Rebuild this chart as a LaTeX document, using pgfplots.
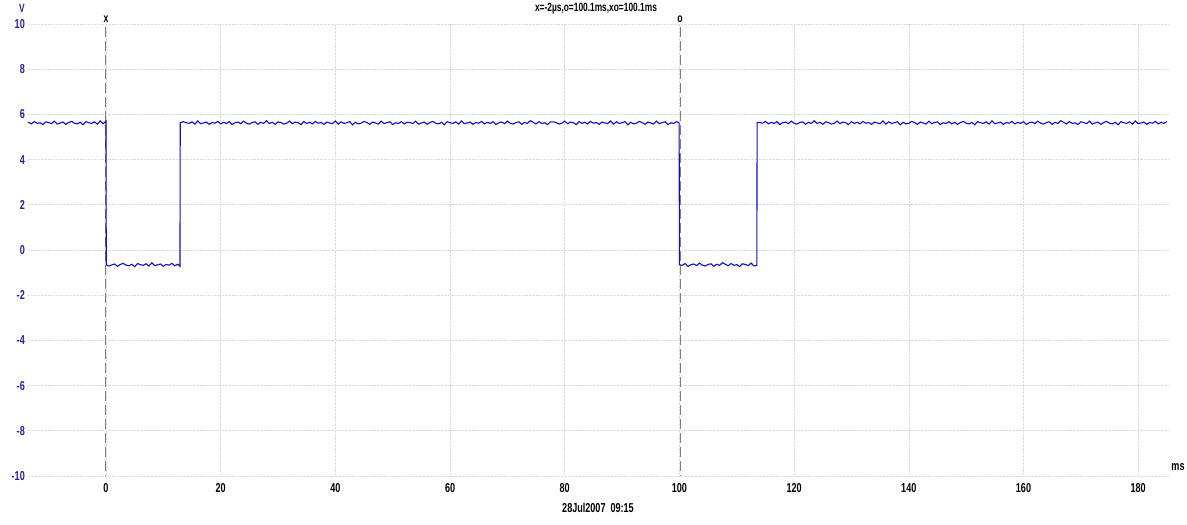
\documentclass[border=0pt]{standalone}
\usepackage{fontspec}
\setmainfont{Liberation Sans}[FakeStretch=0.7]
\usepackage{pgfplots}
\pgfplotsset{compat=1.18}
\definecolor{trace}{RGB}{15,15,200}
\definecolor{ylab}{RGB}{35,35,150}
\definecolor{cursor}{RGB}{125,125,125}
\begin{document}
\begin{tikzpicture}[x=1bp,y=1bp]
\useasboundingbox (0,0) rectangle (1187,525);
\begin{axis}[
  at={(28bp,49bp)}, anchor=south west,
  scale only axis, width=1140bp, height=452bp,
  xmin=-13.6, xmax=185.2, ymin=-10, ymax=10,
  enlargelimits=false, clip=false,
  axis line style={draw=none},
  major tick length=0pt,
  xtick={0,20,...,180}, ytick={-10,-8,...,10},
  grid=major, grid style={gray!28, densely dotted, line width=0.6pt},
  /pgf/number format/assume math mode=true,
  xticklabel style={font=\bfseries\fontsize{13}{14}\selectfont, anchor=north, inner sep=0pt, yshift=-7bp},
  yticklabel style={font=\bfseries\fontsize{13}{14}\selectfont, text=ylab, anchor=east, inner sep=0pt, xshift=-3bp},
]
\addplot[cursor, line width=1pt, dash pattern=on 10bp off 4bp] coordinates {(0,9.85) (0,-10)};
\addplot[cursor, line width=1pt, dash pattern=on 10bp off 4bp] coordinates {(100.1,9.85) (100.1,-10)};
\node[anchor=south, inner sep=0pt, font=\bfseries\fontsize{12.5}{13}\selectfont] at (axis cs:0,10.05) {x};
\node[anchor=south, inner sep=0pt, font=\bfseries\fontsize{12.5}{13}\selectfont] at (axis cs:100.1,10.05) {o};
\addplot[trace, line width=1.1pt] table {
-13.6 5.62
-13.5 5.65
-13.0 5.58
-12.5 5.68
-12.0 5.60
-11.5 5.63
-11.0 5.55
-10.5 5.67
-10.0 5.64
-9.5 5.59
-9.0 5.70
-8.5 5.57
-8.0 5.62
-7.5 5.66
-7.0 5.56
-6.5 5.64
-6.0 5.69
-5.5 5.61
-5.0 5.58
-4.5 5.65
-4.0 5.54
-3.5 5.68
-3.0 5.63
-2.5 5.60
-2.0 5.67
-1.5 5.57
-1.0 5.71
-0.5 5.59
0.0 5.70
0.05 -0.66
0.5 -0.71
1.0 -0.66
1.5 -0.62
2.0 -0.72
2.5 -0.64
3.0 -0.59
3.5 -0.67
4.0 -0.70
4.5 -0.63
5.0 -0.74
5.5 -0.60
6.0 -0.65
6.5 -0.68
7.0 -0.61
7.5 -0.71
8.0 -0.57
8.5 -0.69
9.0 -0.66
9.5 -0.62
10.0 -0.72
10.5 -0.64
11.0 -0.67
11.5 -0.59
12.0 -0.70
12.5 -0.63
12.9 -0.72
12.95 5.63
13.5 5.68
14.0 5.63
14.5 5.60
15.0 5.67
15.5 5.57
16.0 5.71
16.5 5.59
17.0 5.62
17.5 5.66
18.0 5.56
18.5 5.64
19.0 5.61
19.5 5.69
20.0 5.58
20.5 5.65
21.0 5.60
21.5 5.68
22.0 5.55
22.5 5.63
23.0 5.66
23.5 5.59
24.0 5.70
24.5 5.61
25.0 5.57
25.5 5.64
26.0 5.67
26.5 5.56
27.0 5.65
27.5 5.60
28.0 5.72
28.5 5.60
29.0 5.65
29.5 5.56
30.0 5.67
30.5 5.64
31.0 5.57
31.5 5.61
32.0 5.70
32.5 5.59
33.0 5.66
33.5 5.63
34.0 5.55
34.5 5.68
35.0 5.60
35.5 5.65
36.0 5.58
36.5 5.69
37.0 5.61
37.5 5.64
38.0 5.56
38.5 5.66
39.0 5.62
39.5 5.59
40.0 5.71
40.5 5.57
41.0 5.67
41.5 5.60
42.0 5.63
42.5 5.68
43.0 5.54
43.5 5.65
44.0 5.58
44.5 5.61
45.0 5.69
45.5 5.64
46.0 5.56
46.5 5.66
47.0 5.62
47.5 5.57
48.0 5.70
48.5 5.59
49.0 5.64
49.5 5.67
50.0 5.55
50.5 5.63
51.0 5.60
51.5 5.68
52.0 5.58
52.5 5.65
53.0 5.64
53.5 5.59
54.0 5.70
54.5 5.57
55.0 5.62
55.5 5.66
56.0 5.56
56.5 5.64
57.0 5.69
57.5 5.61
58.0 5.58
58.5 5.65
59.0 5.54
59.5 5.68
60.0 5.63
60.5 5.60
61.0 5.67
61.5 5.57
62.0 5.71
62.5 5.59
63.0 5.62
63.5 5.66
64.0 5.56
64.5 5.64
65.0 5.61
65.5 5.69
66.0 5.58
66.5 5.65
67.0 5.60
67.5 5.68
68.0 5.55
68.5 5.63
69.0 5.66
69.5 5.59
70.0 5.70
70.5 5.61
71.0 5.57
71.5 5.64
72.0 5.67
72.5 5.56
73.0 5.65
73.5 5.60
74.0 5.72
74.5 5.65
75.0 5.58
75.5 5.68
76.0 5.60
76.5 5.63
77.0 5.55
77.5 5.67
78.0 5.67
78.5 5.64
79.0 5.57
79.5 5.61
80.0 5.70
80.5 5.59
81.0 5.66
81.5 5.63
82.0 5.55
82.5 5.68
83.0 5.60
83.5 5.65
84.0 5.58
84.5 5.69
85.0 5.61
85.5 5.64
86.0 5.56
86.5 5.66
87.0 5.62
87.5 5.59
88.0 5.71
88.5 5.57
89.0 5.67
89.5 5.60
90.0 5.63
90.5 5.68
91.0 5.54
91.5 5.65
92.0 5.58
92.5 5.61
93.0 5.69
93.5 5.64
94.0 5.56
94.5 5.66
95.0 5.62
95.5 5.57
96.0 5.70
96.5 5.59
97.0 5.64
97.5 5.67
98.0 5.55
98.5 5.63
99.0 5.60
99.5 5.68
99.95 5.62
100.0 -0.65
100.5 -0.68
101.0 -0.60
101.5 -0.73
102.0 -0.65
102.5 -0.62
103.0 -0.69
103.5 -0.58
104.0 -0.67
104.5 -0.71
105.0 -0.64
105.5 -0.61
106.0 -0.72
106.5 -0.63
107.0 -0.68
107.5 -0.56
108.0 -0.63
108.5 -0.70
109.0 -0.60
109.5 -0.68
110.0 -0.65
110.5 -0.73
111.0 -0.61
111.5 -0.64
112.0 -0.69
112.5 -0.58
113.0 -0.71
113.5 -0.68
113.55 5.63
114.0 5.64
114.5 5.61
115.0 5.69
115.5 5.58
116.0 5.65
116.5 5.60
117.0 5.68
117.5 5.55
118.0 5.63
118.5 5.66
119.0 5.59
119.5 5.70
120.0 5.61
120.5 5.57
121.0 5.64
121.5 5.67
122.0 5.56
122.5 5.65
123.0 5.60
123.5 5.72
124.0 5.60
124.5 5.65
125.0 5.56
125.5 5.67
126.0 5.64
126.5 5.57
127.0 5.61
127.5 5.70
128.0 5.59
128.5 5.66
129.0 5.63
129.5 5.55
130.0 5.68
130.5 5.60
131.0 5.65
131.5 5.58
132.0 5.69
132.5 5.61
133.0 5.64
133.5 5.56
134.0 5.66
134.5 5.62
135.0 5.59
135.5 5.71
136.0 5.57
136.5 5.67
137.0 5.60
137.5 5.63
138.0 5.68
138.5 5.54
139.0 5.65
139.5 5.58
140.0 5.61
140.5 5.69
141.0 5.64
141.5 5.56
142.0 5.66
142.5 5.62
143.0 5.57
143.5 5.70
144.0 5.59
144.5 5.64
145.0 5.67
145.5 5.55
146.0 5.63
146.5 5.60
147.0 5.68
147.5 5.58
148.0 5.65
148.5 5.56
149.0 5.64
149.5 5.69
150.0 5.61
150.5 5.58
151.0 5.65
151.5 5.54
152.0 5.68
152.5 5.63
153.0 5.60
153.5 5.67
154.0 5.57
154.5 5.71
155.0 5.59
155.5 5.62
156.0 5.66
156.5 5.56
157.0 5.64
157.5 5.61
158.0 5.69
158.5 5.58
159.0 5.65
159.5 5.60
160.0 5.68
160.5 5.55
161.0 5.63
161.5 5.66
162.0 5.59
162.5 5.70
163.0 5.61
163.5 5.57
164.0 5.64
164.5 5.67
165.0 5.56
165.5 5.65
166.0 5.60
166.5 5.72
167.0 5.65
167.5 5.58
168.0 5.68
168.5 5.60
169.0 5.63
169.5 5.55
170.0 5.67
170.5 5.64
171.0 5.59
171.5 5.70
172.0 5.57
172.5 5.62
173.0 5.66
173.5 5.56
174.0 5.64
174.5 5.69
175.0 5.61
175.5 5.58
176.0 5.65
176.5 5.54
177.0 5.68
177.5 5.63
178.0 5.60
178.5 5.67
179.0 5.57
179.5 5.71
180.0 5.59
180.5 5.62
181.0 5.66
181.5 5.56
182.0 5.64
182.5 5.61
183.0 5.69
183.5 5.58
184.0 5.65
184.5 5.60
185.0 5.68
};
\end{axis}
\node[font=\bfseries\fontsize{12}{13}\selectfont, text=ylab] at (22,517) {V};
\node[font=\bfseries\fontsize{12}{13}\selectfont] at (596,516) {x=-2µs,o=100.1ms,xo=100.1ms};
\node[font=\bfseries\fontsize{13}{14}\selectfont] at (1178,58) {ms};
\node[font=\bfseries\fontsize{13}{14}\selectfont] at (598,17) {28Jul2007\ \ 09:15};
\end{tikzpicture}
\end{document}
